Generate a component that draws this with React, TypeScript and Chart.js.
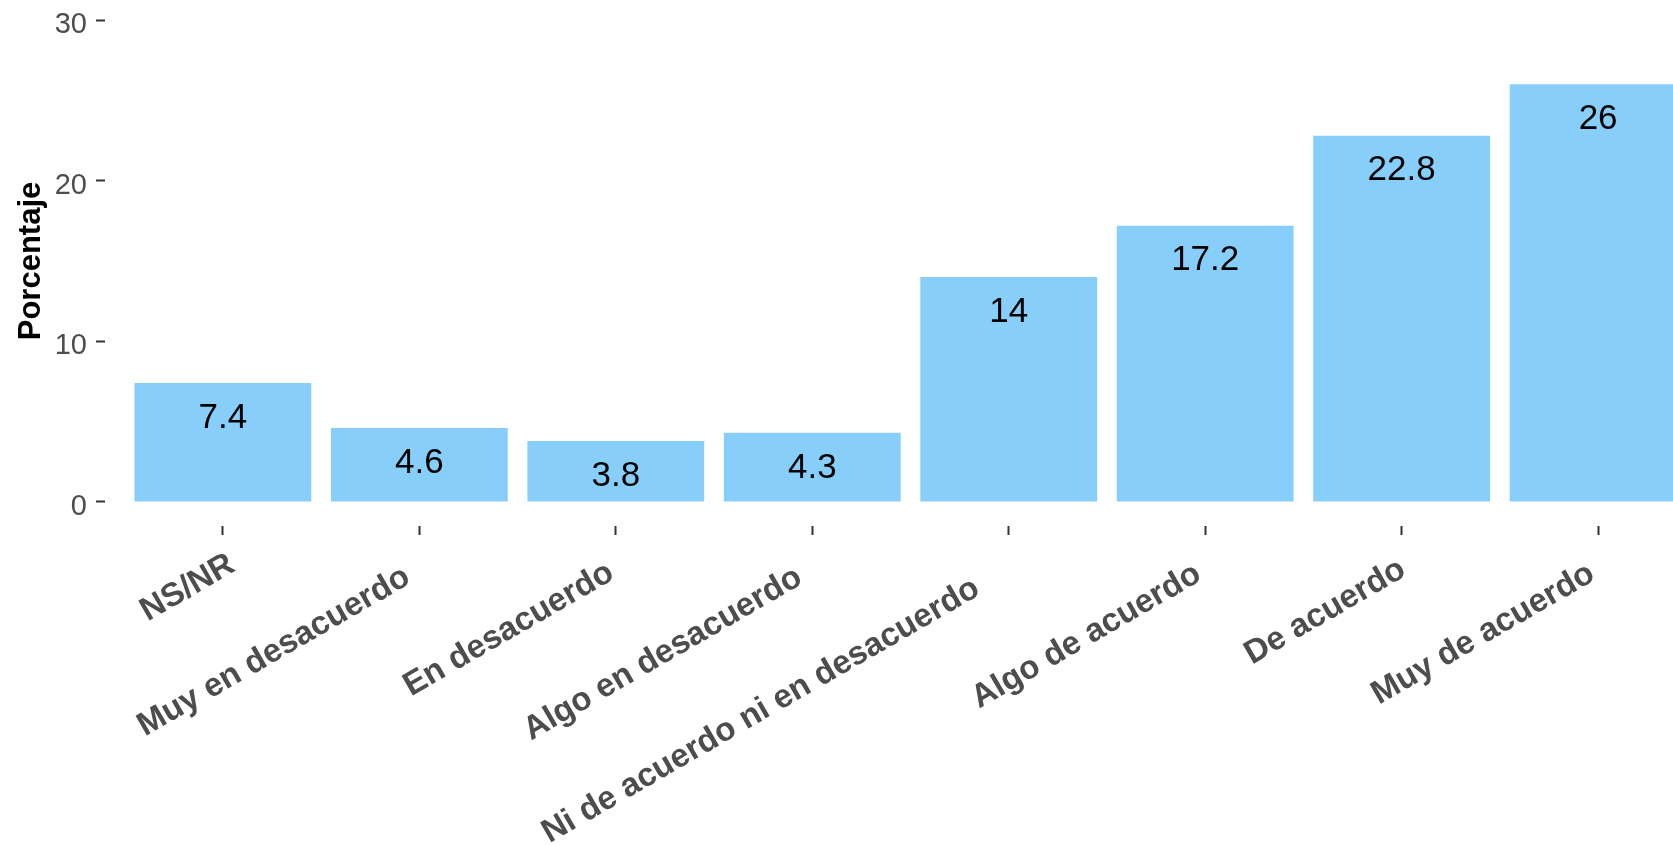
import React, { useEffect, useRef } from 'react';
import { Chart, registerables } from 'chart.js';

Chart.register(...registerables);

const categories = [
  'NS/NR',
  'Muy en desacuerdo',
  'En desacuerdo',
  'Algo en desacuerdo',
  'Ni de acuerdo ni en desacuerdo',
  'Algo de acuerdo',
  'De acuerdo',
  'Muy de acuerdo',
];
const values = [7.4, 4.6, 3.8, 4.3, 14, 17.2, 22.8, 26];
const yTicks = [0, 10, 20, 30];
const yTitle = 'Porcentaje';

const FONT = '"Liberation Sans", Arial, Helvetica, sans-serif';
const LABEL_ANGLE = 30;
const LABEL_EXTRA = 0.12;

const valueLabelPlugin = {
  id: 'valueLabels',
  afterDatasetsDraw(chart: any) {
    const ctx = chart.ctx;
    const meta = chart.getDatasetMeta(0);
    ctx.save();
    ctx.font = `35px ${FONT}`;
    ctx.fillStyle = '#000000';
    ctx.textAlign = 'center';
    ctx.textBaseline = 'middle';
    meta.data.forEach((bar: any, i: number) => {
      ctx.fillText(String(values[i]), bar.x, bar.y + 35);
    });
    ctx.restore();
  },
};

const xLabelShiftPlugin = {
  id: 'xLabelShift',
  beforeDraw(chart: any) {
    const sc: any = chart.scales.x;
    if (!sc || typeof sc.getLabelItems !== 'function') return;
    const items = sc.getLabelItems();
    const ctx = chart.ctx;
    const ang = (LABEL_ANGLE * Math.PI) / 180;
    items.forEach((it: any) => {
      if (it.__shifted) return;
      ctx.save();
      ctx.font = it.font.string;
      const w = ctx.measureText(String(it.label)).width;
      ctx.restore();
      const d = LABEL_EXTRA * w;
      const t = it.options.translation;
      it.options.translation = [t[0] - d * Math.cos(ang), t[1] + d * Math.sin(ang)];
      it.__shifted = true;
    });
  },
};

const tickGrid = {
  display: true,
  offset: false,
  drawOnChartArea: false,
  drawTicks: true,
  tickLength: 9,
  tickColor: '#333333',
  tickWidth: 2,
};

export default function App() {
  const ref = useRef<HTMLCanvasElement>(null);

  useEffect(() => {
    if (!ref.current) return;
    const chart = new Chart(ref.current, {
      type: 'bar',
      data: {
        datasets: [
          {
            data: values.map((v, i) => ({ x: i, y: v })),
            backgroundColor: '#87CEFA',
            borderWidth: 0,
            barPercentage: 0.9,
            categoryPercentage: 1,
          },
        ],
      },
      options: {
        animation: false,
        responsive: false,
        devicePixelRatio: 1,
        layout: { padding: { left: 0, right: 4, top: 36, bottom: 0 }, autoPadding: false },
        plugins: { legend: { display: false }, tooltip: { enabled: false } },
        scales: {
          x: {
            type: 'linear',
            min: -0.6,
            max: 7.6,
            offset: false,
            grid: tickGrid,
            border: { display: false },
            afterBuildTicks: (s: any) => {
              s.ticks = categories.map((_, i) => ({ value: i }));
            },
            afterFit: (s: any) => {
              s.height = 319;
            },
            ticks: {
              autoSkip: false,
              minRotation: LABEL_ANGLE,
              maxRotation: LABEL_ANGLE,
              padding: 4,
              labelOffset: 20,
              color: '#4D4D4D',
              font: { family: FONT, size: 33, weight: 'bold' },
              callback: (v: any) => categories[v] ?? '',
            },
          },
          y: {
            type: 'linear',
            min: -1.5,
            max: 31.5,
            grid: tickGrid,
            border: { display: false },
            afterBuildTicks: (s: any) => {
              s.ticks = yTicks.map((v) => ({ value: v }));
            },
            afterFit: (s: any) => {
              s.width = 105;
            },
            ticks: {
              padding: 9,
              labelOffset: 5,
              color: '#4D4D4D',
              font: { family: FONT, size: 29 },
              callback: (v: any) => String(v),
            },
            title: {
              display: true,
              text: yTitle,
              color: '#000000',
              font: { family: FONT, size: 31, weight: 'bold' },
              padding: { top: 13, bottom: 0 },
            },
          },
        },
      } as any,
      plugins: [valueLabelPlugin, xLabelShiftPlugin],
    });
    return () => chart.destroy();
  }, []);

  return (
    <div
      style={{
        position: 'fixed',
        left: 0,
        top: 0,
        width: 1673,
        height: 845,
        overflow: 'hidden',
        background: '#ffffff',
      }}
    >
      <canvas
        ref={ref}
        width={1720}
        height={885}
        style={{ position: 'absolute', left: 0, top: -40, width: 1720, height: 885 }}
      />
    </div>
  );
}
